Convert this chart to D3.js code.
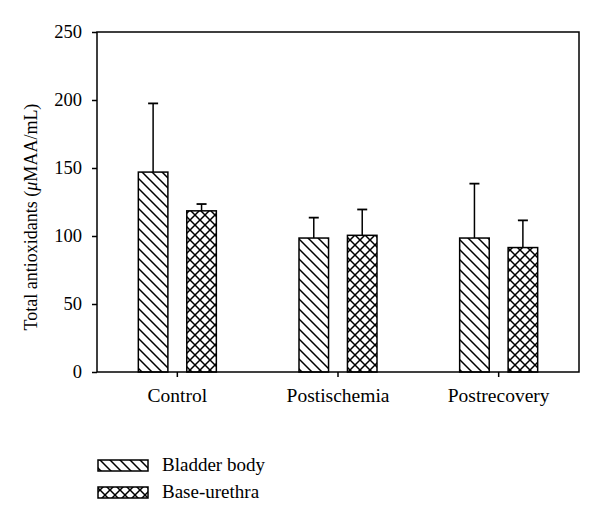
<!DOCTYPE html>
<html><head><meta charset="utf-8">
<script src="https://cdn.jsdelivr.net/npm/d3@7"></script>
<style>body{margin:0;background:#fff}svg{display:block}</style>
</head><body>
<script>
const categories = ["Control", "Postischemia", "Postrecovery"];
const seriesNames = ["Bladder body", "Base-urethra"];
const bladderBody = [147, 98.5, 98.5];
const bladderErr = [50.5, 15, 40];
const baseUrethra = [118.5, 100.5, 91.5];
const baseErr = [5, 19, 20];
const yTicks = [0, 50, 100, 150, 200, 250];

const W = 600, H = 525;
const m = {left: 97, right: 21, top: 32, bottom: 155};
const FONT = "'Liberation Serif', 'Times New Roman', serif";

const svg = d3.select("body").append("svg").attr("width", W).attr("height", H);
const defs = svg.append("defs");
const p1 = defs.append("pattern").attr("id", "hatch").attr("patternUnits", "userSpaceOnUse")
  .attr("width", 10).attr("height", 10);
p1.append("rect").attr("width", 10).attr("height", 10).attr("fill", "#fff");
p1.append("path").attr("d", "M-1,-1 L11,11 M-6,4 L6,16 M4,-6 L16,6").attr("stroke", "#000").attr("stroke-width", 1.5);
const p2 = defs.append("pattern").attr("id", "cross").attr("patternUnits", "userSpaceOnUse")
  .attr("width", 10).attr("height", 10);
p2.append("rect").attr("width", 10).attr("height", 10).attr("fill", "#fff");
p2.append("path").attr("d", "M-1,-1 L11,11 M-1,11 L11,-1").attr("stroke", "#000").attr("stroke-width", 1.5);

const x = d3.scaleBand().domain(categories).range([m.left, W - m.right]).padding(0);
const y = d3.scaleLinear().domain([0, 250]).range([H - m.bottom + 2, m.top]);
const x1 = d3.scaleBand().domain(seriesNames).range([-39, 39]).paddingInner(0.39).paddingOuter(0);

const data = [
  {name: seriesNames[0], vals: bladderBody, errs: bladderErr, fill: "url(#hatch)"},
  {name: seriesNames[1], vals: baseUrethra, errs: baseErr, fill: "url(#cross)"}
];

const g = svg.append("g");
data.forEach(s => {
  categories.forEach((c, i) => {
    const cx = x(c) + x.bandwidth() / 2 + x1(s.name);
    const bw = x1.bandwidth();
    const top = y(s.vals[i]), etop = y(s.vals[i] + s.errs[i]);
    const mid = cx + bw / 2;
    g.append("line").attr("x1", mid).attr("x2", mid).attr("y1", top).attr("y2", etop)
      .attr("stroke", "#000").attr("stroke-width", 1.5);
    g.append("line").attr("x1", mid - 5).attr("x2", mid + 5).attr("y1", etop).attr("y2", etop)
      .attr("stroke", "#000").attr("stroke-width", 1.8);
    g.append("rect").attr("x", cx).attr("y", top).attr("width", bw).attr("height", y(0) - top)
      .attr("fill", s.fill).attr("stroke", "#000").attr("stroke-width", 1.5);
  });
});

// frame
svg.append("rect").attr("x", m.left).attr("y", m.top).attr("width", W - m.right - m.left)
  .attr("height", y(0) - m.top).attr("fill", "none").attr("stroke", "#000").attr("stroke-width", 1.5);

const yAxis = svg.append("g").attr("transform", `translate(${m.left},0)`)
  .call(d3.axisLeft(y).tickValues(yTicks).tickSize(5).tickPadding(10));
yAxis.select(".domain").remove();
yAxis.selectAll("line").attr("stroke-width", 1.5);
yAxis.selectAll("text").attr("font-family", FONT).attr("font-size", 18.5).attr("fill", "#000");

const xAxis = svg.append("g").attr("transform", `translate(0,${y(0)})`)
  .call(d3.axisBottom(x).tickSize(5).tickPadding(11));
xAxis.select(".domain").remove();
xAxis.selectAll("line").attr("stroke-width", 1.5);
xAxis.selectAll("text").attr("font-family", FONT).attr("font-size", 19.5).attr("fill", "#000");

const yl = svg.append("text").attr("transform", `translate(37,217) rotate(-90)`)
  .attr("text-anchor", "middle").attr("font-family", FONT).attr("font-size", 18);
yl.append("tspan").text("Total antioxidants (");
yl.append("tspan").attr("font-style", "italic").text("μ");
yl.append("tspan").text("MAA/mL)");

const leg = svg.append("g");
data.forEach((s, i) => {
  const ly = 460 + i * 27;
  leg.append("rect").attr("x", 98).attr("y", ly).attr("width", 50).attr("height", 11)
    .attr("fill", s.fill).attr("stroke", "#000").attr("stroke-width", 1.5);
  leg.append("text").attr("x", 162).attr("y", ly + 11).attr("font-family", FONT)
    .attr("font-size", 19).text(s.name);
});
</script>
</body></html>
